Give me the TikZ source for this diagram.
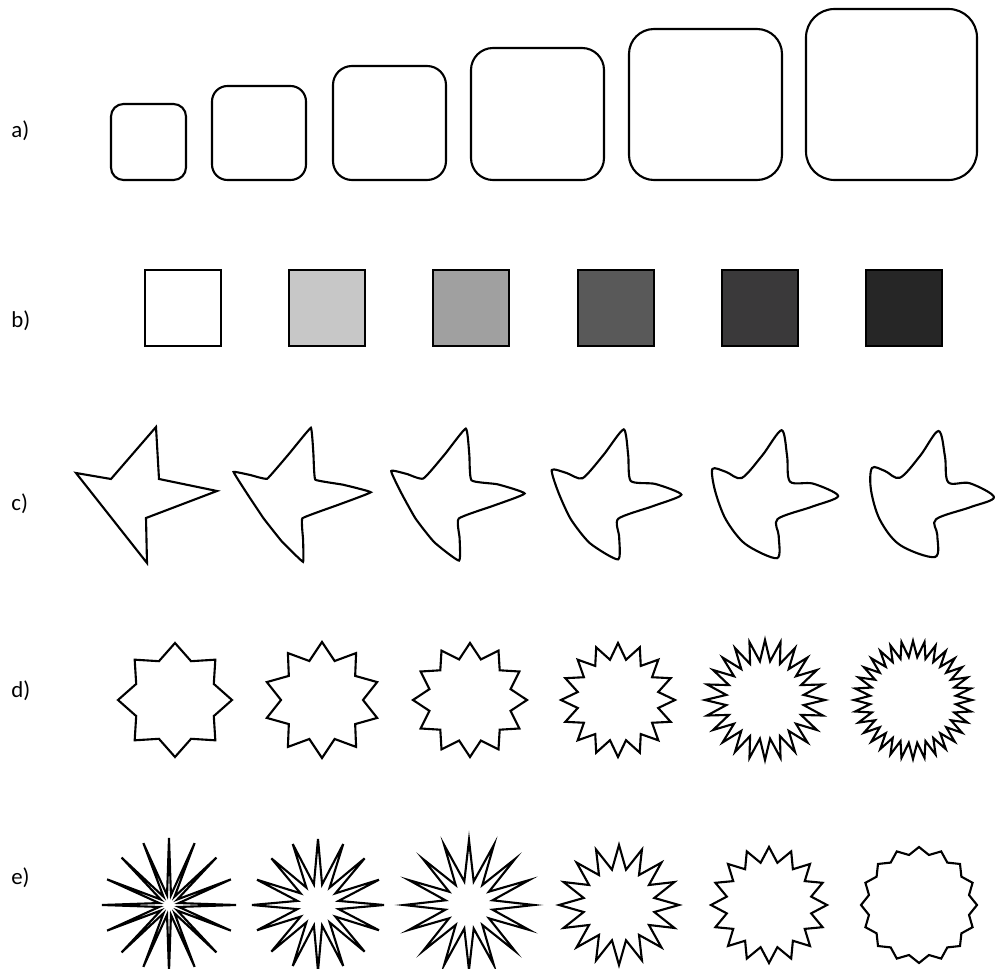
\documentclass[tikz,border=0pt]{standalone}
\usepackage{fontspec}
\setmainfont{Carlito}
\definecolor{gA}{RGB}{255,255,255}
\definecolor{gB}{RGB}{199,199,199}
\definecolor{gC}{RGB}{160,160,160}
\definecolor{gD}{RGB}{89,89,89}
\definecolor{gE}{RGB}{58,57,58}
\definecolor{gF}{RGB}{38,38,38}
\newcommand\spikystar[5]{%
  \pgfmathtruncatemacro\spN{2*#3-1}%
  \draw[shapeline] plot[samples at={0,...,\spN}]
    ({#1+(#4-(#4-#5)*mod(\x,2))*cos(90+\x*180/#3)},
     {#2-(#4-(#4-#5)*mod(\x,2))*sin(90+\x*180/#3)}) -- cycle;
}
\begin{document}
\begin{tikzpicture}[x=0.02cm, y=-0.02cm,
  shapeline/.style={draw=black, line width=1.2pt, line join=miter, miter limit=10},
  lbl/.style={font=\fontsize{13}{15}\selectfont, anchor=west, inner sep=0pt}]
\useasboundingbox (0,0) rectangle (995,969);

% labels
\node[lbl] (la) at (11,131) {a)};
\node[lbl] (lb) at (11,321) {b)};
\node[lbl] (lc) at (11,504) {c)};
\node[lbl] (ld) at (11,691) {d)};
\node[lbl] (le) at (11,878) {e)};

% row a: rounded squares
\draw[shapeline, rounded corners=0.25cm]  (111,104) rectangle (186,180);
\draw[shapeline, rounded corners=0.31cm]  (212,86)  rectangle (306,180);
\draw[shapeline, rounded corners=0.38cm]  (333,66)  rectangle (446,180);
\draw[shapeline, rounded corners=0.44cm]  (471,48)  rectangle (604,180);
\draw[shapeline, rounded corners=0.50cm]  (629,29)  rectangle (782,180);
\draw[shapeline, rounded corners=0.57cm]  (806,9)   rectangle (977,180);

% row b: grey squares
\draw[shapeline, fill=gA] (145,270) rectangle (221,346);
\draw[shapeline, fill=gB] (289,270) rectangle (365,346);
\draw[shapeline, fill=gC] (433,270) rectangle (509,346);
\draw[shapeline, fill=gD] (578,270) rectangle (654,346);
\draw[shapeline, fill=gE] (722,270) rectangle (798,346);
\draw[shapeline, fill=gF] (866,270) rectangle (942,346);

% row c: star morphing to blob
\draw[shapeline] (156,427) -- (159,479) -- (217,491) -- (146,518) -- (147,563)
  -- (76,473) -- (111,479) -- cycle;
\foreach \k/\off/\ten in {1/156/0.15, 2/312/0.28, 3/471/0.4, 4/630/0.5, 5/788/0.55} {
  \pgfmathsetmacro\w{\k/5}
  \draw[shapeline] plot[smooth cycle, tension=\ten] coordinates {
    ({\off+156+(150.5-156)*\w},{427+(431-427)*\w})
    ({\off+157.5+(157-157.5)*\w},{453+(456.7-453)*\w})
    ({\off+159+(160.3-159)*\w},{479+(482.3-479)*\w})
    ({\off+188+(182-188)*\w},{485+(483.3-485)*\w})
    ({\off+217+(206-217)*\w},{491+(497.3-491)*\w})
    ({\off+181.5+(182-181.5)*\w},{504.5+(507.3-504.5)*\w})
    ({\off+146+(148-146)*\w},{518+(519.3-518)*\w})
    ({\off+146.5+(149.3-146.5)*\w},{540.5+(535-540.5)*\w})
    ({\off+147+(147-147)*\w},{563+(557-563)*\w})
    ({\off+129.25+(112-129.25)*\w},{540.5+(545-540.5)*\w})
    ({\off+111.5+(92-111.5)*\w},{518+(520-518)*\w})
    ({\off+93.75+(83-93.75)*\w},{495.5+(490-495.5)*\w})
    ({\off+76+(84-76)*\w},{473+(468-473)*\w})
    ({\off+93.5+(97-93.5)*\w},{476+(471-476)*\w})
    ({\off+111+(112-111)*\w},{479+(477.7-479)*\w})
    ({\off+133.5+(132-133.5)*\w},{453+(456-453)*\w})
  };
}

% row d: stars with more points
\spikystar{175}{700}{8}{57}{42}
\spikystar{322}{700}{10}{58}{41}
\spikystar{470}{700}{12}{57}{42}
\spikystar{618}{700}{16}{57}{41}
\spikystar{765}{700}{24}{60}{39}
\spikystar{913}{700}{32}{59}{43}

% row e: 16-point stars with growing inner radius
\spikystar{169}{905}{16}{67}{10}
\spikystar{318}{905}{16}{66}{21}
\spikystar{469}{905}{16}{65}{24}
\spikystar{619}{905}{16}{60}{36}
\spikystar{769}{905}{16}{58}{43}
\spikystar{919}{905}{16}{58}{51}
\end{tikzpicture}
\end{document}
